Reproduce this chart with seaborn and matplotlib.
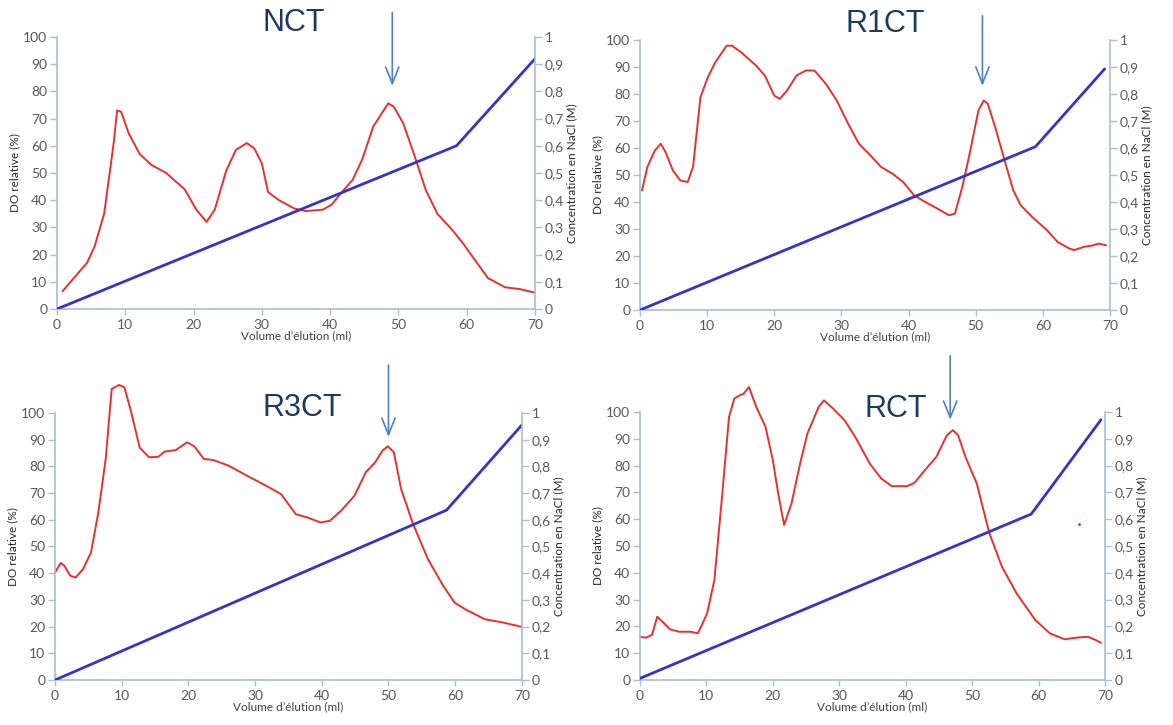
import matplotlib
matplotlib.use("Agg")
import matplotlib.pyplot as plt
import seaborn as sns

# ---- data (elution volume in ml, DO %, NaCl M) ----
nct_x = [0.8, 4.4, 5.5, 6.9, 8.3, 8.8, 9.4, 10.5, 12.1, 13.8, 16, 17.1, 18.7, 20.4, 21.9, 23.1, 24.8, 26.2,
         27.8, 28.9, 30, 30.9, 32.5, 34.7, 36.4, 38.9, 40.2, 41.6, 43.3, 44.7, 46.3, 48.5, 49.3, 50.7, 52.4,
         54, 55.7, 57.9, 59.5, 61.2, 63.1, 65.6, 67.8, 70]
nct_y = [6.5, 17, 23, 35, 61, 73, 72.5, 64.6, 57, 53, 50, 47.5, 44, 36.5, 32, 36.5, 51, 58.5,
         61, 59, 53.5, 43, 40, 37, 36, 36.5, 38.3, 42.6, 47.5, 55, 67, 75.6, 74.4, 68.3, 56,
         43.8, 35, 29, 24, 18, 11.4, 8, 7.3, 6]
nct_salt_x = [0, 58.5, 70]
nct_salt_y = [0, 0.60, 0.92]

r1_x = [0.3, 1.1, 2.2, 3.1, 3.8, 4.9, 6, 7.1, 7.9, 9, 10.1, 11.2, 12.9, 13.7, 15.1, 17.3, 18.6, 20, 20.8,
        21.9, 23.3, 24.7, 26, 27.7, 29.3, 31, 32.6, 34.3, 35.9, 37.6, 39.2, 40.8, 42.5, 44.7, 46, 46.9,
        48, 49.1, 50.4, 51.2, 51.8, 52.9, 54.3, 55.6, 56.7, 58.4, 60.6, 62.2, 63.9, 64.7, 66.1, 67.4,
        68.3, 69.4]
r1_y = [44.3, 53, 59, 61.6, 58.5, 51.7, 48, 47.4, 53, 78.8, 86.2, 91.7, 97.9, 97.9, 95.4, 90.5, 86.8, 79.4, 78.2,
        81.3, 86.8, 88.7, 88.7, 83.7, 77.6, 69, 61.6, 57.3, 53, 50.5, 47.4, 42.5, 40, 37, 35.1, 35.7,
        45.6, 57.9, 73.9, 77.6, 76.4, 67.7, 55.4, 44.3, 38.8, 34.5, 29.6, 25.2, 22.8, 22.2, 23.4, 23.9,
        24.6, 24]
r1_salt_x = [0, 58.9, 69.2]
r1_salt_y = [0, 0.605, 0.893]

r3_x = [0, 0.85, 1.4, 2.3, 3.1, 4.2, 5.4, 6.5, 7.6, 8.5, 9.6, 10.4, 11.3, 12.7, 14.1, 15.5, 16.4, 18.1,
        19.8, 20.9, 22.3, 23.7, 26, 28.8, 31.6, 33.9, 36.1, 37.8, 39.8, 41.2, 42.9, 44.9, 46.6, 48,
        49.1, 49.9, 50.8, 51.9, 53.6, 55.9, 58.2, 59.9, 61.5, 64.4, 67.2, 70]
r3_y = [40.3, 43.8, 42.8, 39, 38.4, 41.5, 47.8, 62.8, 82.8, 109, 110.5, 109.6, 101.5, 87, 83.4, 83.6, 85.5, 86.1,
        89, 87.5, 82.8, 82.4, 80.3, 76.5, 72.8, 69.6, 62.1, 60.9, 59, 59.6, 63.4, 69, 77.8, 81.5,
        85.9, 87.5, 85.3, 71.5, 59, 45.3, 35.3, 29, 26.5, 22.8, 21.5, 19.9]
r3_salt_x = [0, 58.7, 70]
r3_salt_y = [0, 0.636, 0.955]

rct_x = [0, 0.9, 1.8, 2.6, 3.4, 4.5, 5.9, 7.6, 8.7, 9.2, 10.1, 11.2, 12.3, 13.4, 14.2, 15, 15.6, 16.4,
         17.5, 18.9, 20, 20.8, 21.7, 22.8, 24.1, 25.2, 26.9, 27.7, 29.1, 30.8, 32.4, 34.6, 36.3, 37.9,
         40.2, 41.3, 42.9, 44.6, 46.2, 47.1, 47.9, 49, 50.7, 52.6, 54.5, 56.7, 59.5, 61.7, 63.9, 66.1,
         67.5, 68.6, 69.4]
rct_y = [16.1, 15.8, 16.8, 23.6, 21.7, 18.9, 18, 18, 17.4, 19.9, 24.8, 37.3, 67, 98.1, 105, 106.2, 106.8, 109.3,
         101.9, 94.4, 82, 69.6, 57.8, 65.8, 80.7, 91.9, 101.9, 104.3, 101.2, 96.9, 90.7, 80.7, 75.2, 72.3,
         72.3, 73.5, 78.3, 83.2, 91.3, 93.2, 91.3, 83.2, 73.3, 54.7, 42.2, 32.3, 22.4, 17.4, 15.2, 15.9,
         16.1, 14.9, 13.9]
rct_salt_x = [0, 58.9, 69.4]
rct_salt_y = [0.006, 0.619, 0.971]
rct_dot_x = [66.1]
rct_dot_y = [58.1]

names = ["NCT", "R1CT", "R3CT", "RCT"]
# arrow x position, arrow top, arrow tip (DO units); title x, title y
arrow_x = [49.1, 51.0, 50.0, 46.7]
arrow_top = [110, 110, 119, 122]
arrow_tip = [81, 82, 90, 96]
title_x = [34.7, 36.5, 37.0, 38.5]
title_y = [105, 106, 102, 101]

curves = [(nct_x, nct_y, nct_salt_x, nct_salt_y),
          (r1_x, r1_y, r1_salt_x, r1_salt_y),
          (r3_x, r3_y, r3_salt_x, r3_salt_y),
          (rct_x, rct_y, rct_salt_x, rct_salt_y)]

# axes boxes [left, bottom, width, height] in figure fraction
boxes = [[0.0486, 0.5738, 0.4075, 0.3752],
         [0.5456, 0.5724, 0.4007, 0.3724],
         [0.0469, 0.0621, 0.3980, 0.3683],
         [0.5456, 0.0621, 0.3964, 0.3697]]

sns.set_theme(style="white")
plt.rcParams["font.family"] = ["Lato", "DejaVu Sans"]

spine_c = "#a7bfd8"
tick_c = "#595959"
red = "#e8302e"
blue = "#3434c8"
arrow_c = "#4f81bd"
title_c = "#1f3a5f"

fig = plt.figure(figsize=(11.73, 7.25), dpi=100)

for i, (x, y, sx, sy) in enumerate(curves):
    ax = fig.add_axes(boxes[i])
    ax2 = ax.twinx()

    sns.lineplot(x=x, y=y, ax=ax, color=red, lw=1.4, clip_on=False)
    if names[i] == "RCT":
        sns.scatterplot(x=rct_dot_x, y=rct_dot_y, ax=ax, color=red, s=4, linewidth=0)
    sns.lineplot(x=sx, y=sy, ax=ax2, color=blue, lw=2)

    ax.set_xlim(0, 70)
    ax.set_ylim(0, 100)
    ax2.set_ylim(0, 1)
    ax.set_xticks(range(0, 71, 10))
    ax.set_yticks(range(0, 101, 10))
    ax2.set_yticks([k / 10 for k in range(11)])
    ax2.set_yticklabels(["0"] + ["0,%d" % k for k in range(1, 10)] + ["1"])

    for a in (ax, ax2):
        for s in a.spines.values():
            s.set_color(spine_c)
            s.set_linewidth(1.2)
        a.spines["top"].set_visible(False)
        a.tick_params(colors=tick_c, labelsize=10, length=5, width=1, direction="out")
        a.tick_params(axis="both", color=spine_c)
    ax.spines["right"].set_visible(False)
    ax2.spines["left"].set_visible(False)
    ax2.spines["bottom"].set_visible(False)
    ax.tick_params(axis="y", left=True, pad=2)
    ax.tick_params(axis="x", bottom=True, length=4, pad=3)
    ax2.tick_params(axis="y", right=True, pad=2)

    ax.set_xlabel("Volume d\u2019élution (ml)", fontsize=8.5, color="#404040", labelpad=0)
    ax.set_ylabel("DO relative (%)", fontsize=8.5, color="#262626", labelpad=2)
    ax2.set_ylabel("Concentration en NaCl (M)", fontsize=8.5, color="#262626", labelpad=2)

    ax.text(title_x[i], title_y[i], names[i], fontsize=22, color=title_c,
            family=["Liberation Sans", "DejaVu Sans"],
            ha="center", va="center", clip_on=False)
    ax.annotate("", xy=(arrow_x[i], arrow_tip[i]), xytext=(arrow_x[i], arrow_top[i]),
                arrowprops=dict(arrowstyle="->,head_length=1.0,head_width=0.4",
                                color=arrow_c, lw=1.2),
                annotation_clip=False)

fig.savefig("out.png", dpi=100)
